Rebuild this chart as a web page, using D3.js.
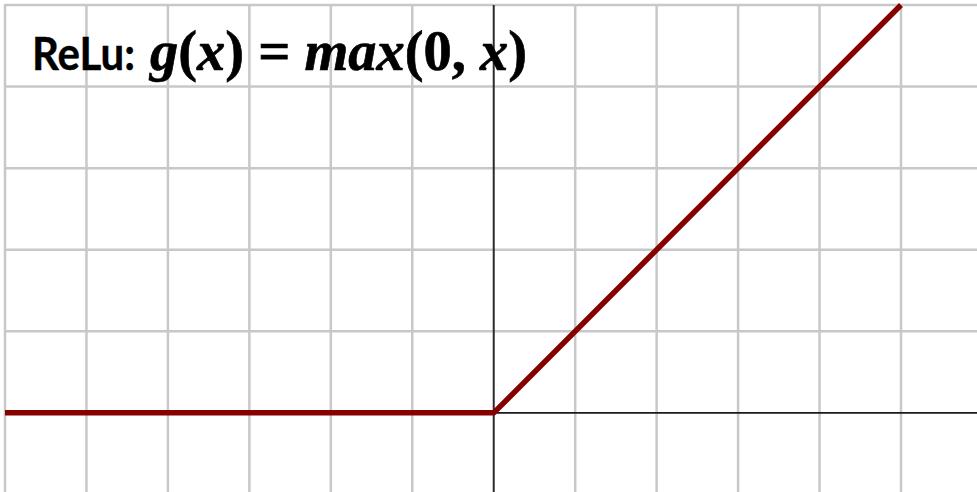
<!DOCTYPE html>
<html>
<head>
<meta charset="utf-8">
<script src="https://cdn.jsdelivr.net/npm/d3@7"></script>
<style>
  html, body { margin: 0; padding: 0; background: #fff; }
  svg { display: block; }
</style>
</head>
<body>
<svg id="chart" width="977" height="492"></svg>
<script>
// ReLU curve: g(x) = max(0, x)
const reluX = [-6, 0, 5];
const reluY = [0, 0, 5];

// grid positions (in x / y units)
const gridX = [-6, -5, -4, -3, -2, -1, 0, 1, 2, 3, 4, 5];
const gridY = [0, 1, 2, 3, 4, 5];

const W = 977, H = 492;
const svg = d3.select("#chart");

const x = d3.scaleLinear().domain([-6, 5.933]).range([5, W]);
const y = d3.scaleLinear().domain([-0.97, 5]).range([H, 5]);

svg.append("rect").attr("width", W).attr("height", H).attr("fill", "#fff");

// light gray grid
const grid = svg.append("g").attr("stroke", "#c8c8c8").attr("stroke-width", 2.5);
grid.selectAll("line.v").data(gridX.filter(d => d !== 0)).join("line")
  .attr("class", "v")
  .attr("x1", d => x(d)).attr("x2", d => x(d))
  .attr("y1", y(5) - 1).attr("y2", H);
grid.selectAll("line.h").data(gridY.filter(d => d !== 0)).join("line")
  .attr("class", "h")
  .attr("x1", x(-6) - 1).attr("x2", W)
  .attr("y1", d => y(d)).attr("y2", d => y(d));

// axes through the origin
svg.append("line")
  .attr("x1", x(0)).attr("x2", W)
  .attr("y1", y(0)).attr("y2", y(0))
  .attr("stroke", "#1a1a1a").attr("stroke-width", 1.6);
svg.append("line")
  .attr("x1", x(0)).attr("x2", x(0))
  .attr("y1", y(5)).attr("y2", H)
  .attr("stroke", "#2a2a2a").attr("stroke-width", 2);

// the ReLU line
const pts = reluX.map((d, i) => [d, reluY[i]]);
svg.append("path")
  .datum(pts)
  .attr("d", d3.line().x(d => x(d[0])).y(d => y(d[1])))
  .attr("fill", "none")
  .attr("stroke", "#870000")
  .attr("stroke-width", 5.5)
  .attr("stroke-linejoin", "miter");

// fit a text element horizontally between two x positions
function fitWidth(sel, x0, width) {
  const w = sel.node().getComputedTextLength();
  sel.attr("x", 0).attr("transform", `translate(${x0},0) scale(${width / w},1)`);
}

// title
const label = svg.append("text")
  .attr("y", 70)
  .attr("font-family", "Lato, 'Open Sans', sans-serif")
  .attr("font-weight", 700)
  .attr("font-size", 45)
  .attr("fill", "#000")
  .attr("stroke", "#000").attr("stroke-width", 0.4)
  .text("ReLu:");
fitWidth(label, 32, 103);

const math = svg.append("text")
  .attr("y", 70)
  .attr("font-family", "'Liberation Serif', 'DejaVu Serif', serif")
  .attr("font-weight", 700)
  .attr("font-size", 57)
  .attr("fill", "#000")
  .attr("stroke", "#000").attr("stroke-width", 0.7);
const parts = [
  ["g", true], ["(", false], ["x", true], [")", false], [" = ", false],
  ["max", true], ["(0, ", false], ["x", true], [")", false]
];
parts.forEach(([t, it]) => {
  math.append("tspan").attr("font-style", it ? "italic" : "normal").text(t);
});
fitWidth(math, 150, 377);
</script>
</body>
</html>
